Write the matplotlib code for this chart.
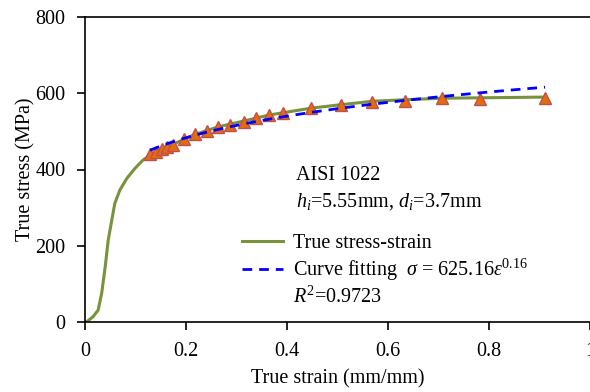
import numpy as np
import matplotlib
matplotlib.use("Agg")
import matplotlib.pyplot as plt
from matplotlib.lines import Line2D

plt.rcParams.update({"font.family": "Liberation Serif", "font.size": 14.5,
                     "mathtext.fontset": "custom", "mathtext.rm": "Liberation Serif",
                     "mathtext.it": "Liberation Serif:italic"})

# measured true stress-strain curve (AISI 1022)
curve_strain = [0, 0.003, 0.016, 0.026, 0.033, 0.040, 0.046, 0.053, 0.059, 0.069, 0.083,
                0.099, 0.115, 0.129, 0.152, 0.174, 0.218, 0.264, 0.314, 0.365, 0.448,
                0.507, 0.569, 0.634, 0.707, 0.783, 0.85, 0.911]
curve_stress = [0, 0, 14, 31, 75, 145, 215, 267, 311, 346, 377,
                403, 425, 437, 455, 466, 492, 512, 527, 543, 561,
                570, 579, 583, 587, 588, 589, 590]

# sampled points
pt_strain = [0.129, 0.141, 0.152, 0.163, 0.174, 0.196, 0.218, 0.241, 0.264, 0.288, 0.314,
             0.339, 0.365, 0.393, 0.448, 0.507, 0.569, 0.634, 0.707, 0.783, 0.911]
pt_stress = [440, 447, 455, 460, 464, 479, 492, 501, 512, 517, 525,
             534, 543, 547, 560, 568, 578, 580, 588, 586, 588]

# power-law fit sigma = K * eps^n
K, n = 625.16, 0.16
fit_eps = np.linspace(min(pt_strain), max(pt_strain), 100)
fit_sig = K * fit_eps ** n

GREEN, BLUE = "#77933C", "#0000FF"
DASH = (0, (3.5, 2.5))

fig = plt.figure(figsize=(5.9, 3.92), dpi=100)
ax = fig.add_axes([85/590, 70/392, 505/590, 305/392])

ax.plot(curve_strain, curve_stress, color=GREEN, lw=2.2, zorder=2)
ax.plot(pt_strain, pt_stress, ls="none", marker="^", ms=9, mfc="#E46C0A",
        mec="#C0504D", mew=1, zorder=3)
ax.plot(fit_eps, fit_sig, color=BLUE, lw=2, ls=DASH, zorder=4)

ax.set_xlim(0, 1)
ax.set_ylim(0, 800)
ax.set_xticks([0, 0.2, 0.4, 0.6, 0.8, 1])
ax.set_xticklabels(["0", "0.2", "0.4", "0.6", "0.8", "1"])
ax.set_yticks([0, 200, 400, 600, 800])
ax.tick_params(direction="out", length=6, width=1.2, colors="black")
ax.tick_params(axis="x", pad=8.5)
ax.tick_params(axis="y", pad=8)
for s in ax.spines.values():
    s.set_linewidth(1.2)
ax.spines["right"].set_visible(False)
ax.set_xlabel("True strain (mm/mm)", labelpad=6)
ax.set_ylabel("True stress (MPa)", labelpad=0)

ax.text(0.418, 0.466, "AISI 1022", transform=ax.transAxes, va="baseline")
ax.text(0.418, 0.378, r"$h_i$=5.55mm, $d_i$=3.7mm", transform=ax.transAxes, va="baseline")

handles = [Line2D([], [], color=GREEN, lw=2.2),
           Line2D([], [], color=BLUE, lw=2, ls=DASH),
           Line2D([], [], color="none")]
labels = ["True stress-strain",
          r"Curve fitting  $\sigma$ = 625.16$\varepsilon^{0.16}$",
          r"$R^2$=0.9723"]
ax.legend(handles, labels, loc="upper left", bbox_to_anchor=(0.311, 0.29),
          frameon=False, handlelength=2.05, handletextpad=0.5, labelspacing=0.2,
          borderpad=0, borderaxespad=0)

fig.savefig("out.png", dpi=100)
